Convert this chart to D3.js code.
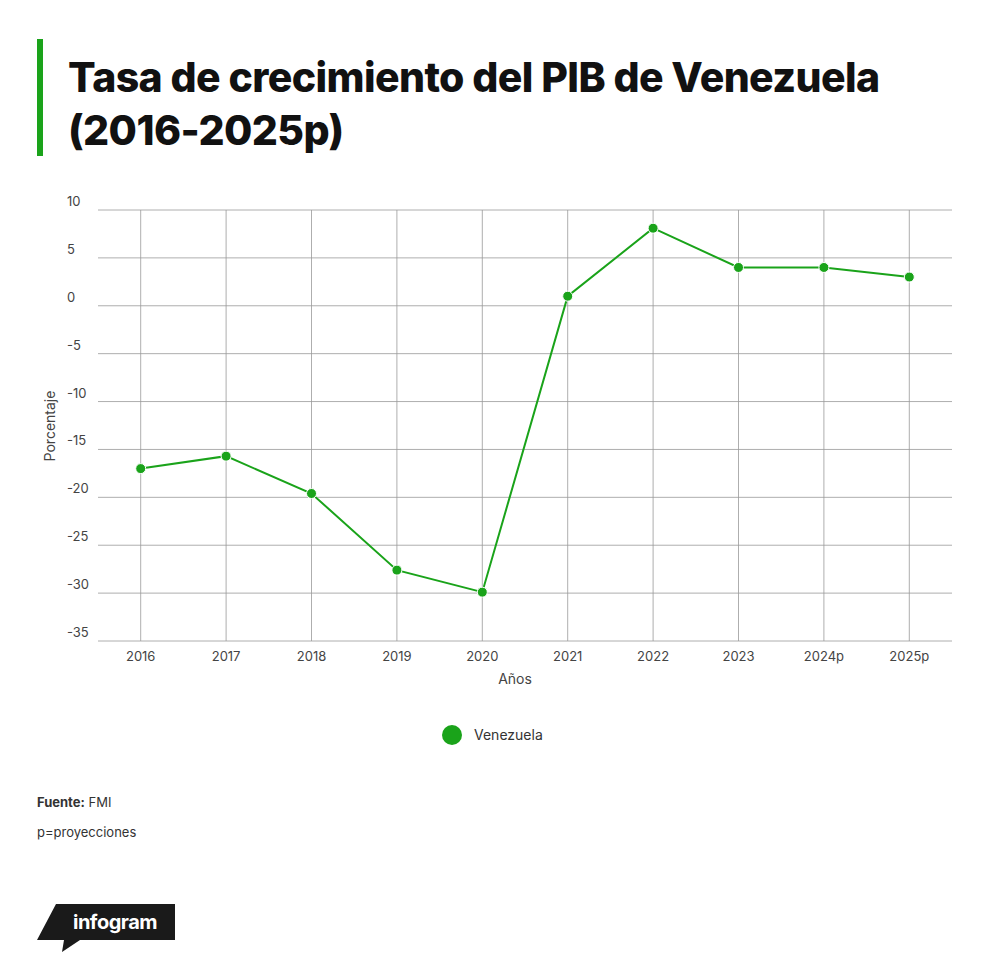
<!DOCTYPE html><html><head><meta charset="utf-8">
<script src="https://cdn.jsdelivr.net/npm/d3@7"></script>
<style>body{margin:0;background:#fff;font-family:Inter,"Open Sans",sans-serif}</style></head><body>
<svg id="c" width="1000" height="972"></svg>
<script>
const years=["2016","2017","2018","2019","2020","2021","2022","2023","2024p","2025p"];
const values=[-17,-15.7,-19.6,-27.6,-29.9,1.0,8.1,4.0,4.0,3.0];
const yTicks=[10,5,0,-5,-10,-15,-20,-25,-30,-35];
const svg=d3.select("#c");
const green="#1aa31a";
svg.append("rect").attr("x",37).attr("y",39).attr("width",6).attr("height",117).attr("fill",green);
svg.append("text").attr("x",68).attr("y",92).text("Tasa de crecimiento del PIB de Venezuela").attr("font-size",41).attr("font-weight",800).attr("fill","#111").attr("letter-spacing",-0.6);
svg.append("text").attr("x",68).attr("y",145).text("(2016-2025p)").attr("font-size",41).attr("font-weight",800).attr("fill","#111").attr("letter-spacing",-0.6);
const x=d3.scalePoint().domain(years).range([98,952]).padding(0.5);
const y=d3.scaleLinear().domain([-35,10]).range([641,210]);
const g=svg.append("g");
yTicks.forEach(t=>{g.append("line").attr("x1",98).attr("x2",952).attr("y1",y(t)).attr("y2",y(t)).attr("stroke","#999").attr("stroke-width",0.8);
 g.append("text").attr("x",67).attr("y",y(t)-4).text(t).attr("font-size",13).attr("fill","#444");});
years.forEach(yr=>{g.append("line").attr("x1",x(yr)).attr("x2",x(yr)).attr("y1",210).attr("y2",641).attr("stroke","#999").attr("stroke-width",0.8);
 g.append("text").attr("x",x(yr)).attr("y",661).attr("text-anchor","middle").text(yr).attr("font-size",13).attr("fill","#444");});
g.append("text").attr("x",515).attr("y",684).attr("text-anchor","middle").text("Años").attr("font-size",14).attr("fill","#444");
g.append("text").attr("transform","translate(55,426) rotate(-90)").attr("text-anchor","middle").text("Porcentaje").attr("font-size",14).attr("fill","#444");
const line=d3.line().x((d,i)=>x(years[i])).y(d=>y(d));
g.append("path").datum(values).attr("d",line).attr("fill","none").attr("stroke",green).attr("stroke-width",2);
g.selectAll("circle.p").data(values).join("circle").attr("cx",(d,i)=>x(years[i])).attr("cy",d=>y(d)).attr("r",5).attr("fill",green).attr("stroke","#fff").attr("stroke-width",1);
svg.append("circle").attr("cx",452).attr("cy",735).attr("r",10).attr("fill",green);
svg.append("text").attr("x",474).attr("y",740).text("Venezuela").attr("font-size",14).attr("fill","#333");
const f=svg.append("text").attr("x",37).attr("y",807).attr("font-size",13).attr("fill","#333");
f.append("tspan").text("Fuente:").attr("font-weight",700);f.append("tspan").text(" FMI");
svg.append("text").attr("x",37).attr("y",837).text("p=proyecciones").attr("font-size",13).attr("fill","#333");
svg.append("path").attr("d","M56,904 L175,904 L175,940 L80,940 L62,952 L64,940 L37,940 Z").attr("fill","#1a1a1a");
svg.append("text").attr("x",73).attr("y",929).text("infogram").attr("font-size",20).attr("font-weight",700).attr("fill","#fff").attr("letter-spacing",-0.5);
</script></body></html>
